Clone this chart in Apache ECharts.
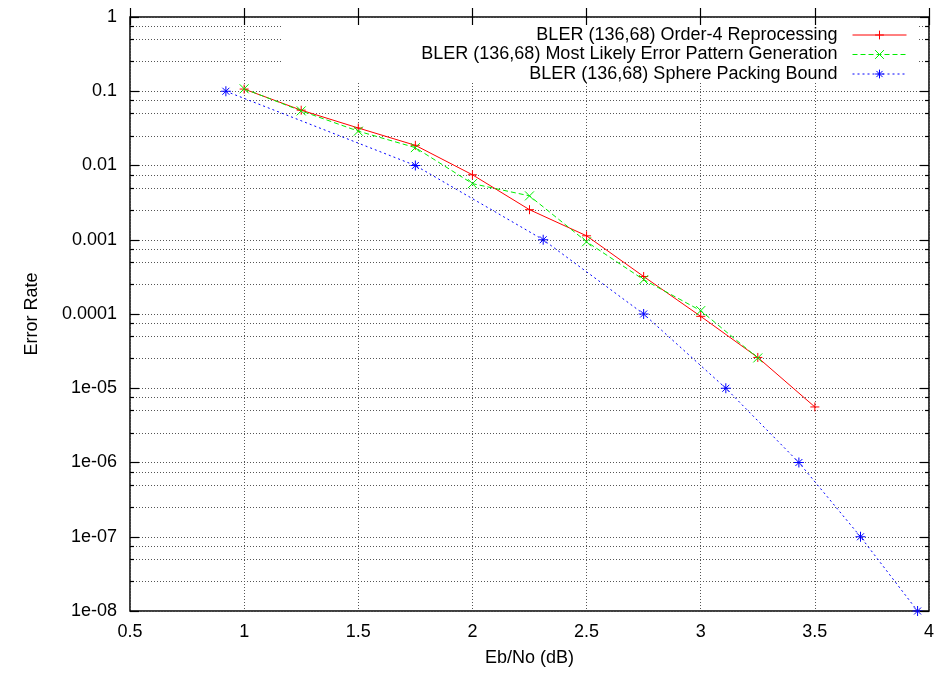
<!DOCTYPE html>
<html>
<head>
<meta charset="utf-8">
<script src="https://cdn.jsdelivr.net/npm/echarts@6/dist/echarts.min.js"></script>
<style>
  html, body { margin: 0; padding: 0; background: #fff; }
  #chart { width: 939px; height: 673px; }
</style>
</head>
<body>
<div id="chart"></div>
<script>
// Block error rate of the (136,68) code versus Eb/No
const seriesNames = [
  'BLER (136,68) Order-4 Reprocessing',
  'BLER (136,68) Most Likely Error Pattern Generation',
  'BLER (136,68) Sphere Packing Bound'
];

const ebnoOrder4 = [1, 1.25, 1.5, 1.75, 2, 2.25, 2.5, 2.75, 3, 3.25, 3.5];
const blerOrder4 = [0.107, 0.0556, 0.032, 0.0187, 0.0075, 0.00254, 0.00113, 0.00032, 0.000093, 0.000026, 0.0000056];

const ebnoMlep = [1, 1.25, 1.5, 1.75, 2, 2.25, 2.5, 2.75, 3, 3.25];
const blerMlep = [0.108, 0.0544, 0.029, 0.0174, 0.0057, 0.0039, 0.00094, 0.00029, 0.000111, 0.0000256];

const ebnoBound = [0.92, 1.75, 2.31, 2.75, 3.11, 3.43, 3.70, 3.95];
const blerBound = [1e-1, 1e-2, 1e-3, 1e-4, 1e-5, 1e-6, 1e-7, 1e-8];

const yTickValues = [1, 0.1, 0.01, 0.001, 0.0001, 1e-5, 1e-6, 1e-7, 1e-8];
const yTickLabels = ['1', '0.1', '0.01', '0.001', '0.0001', '1e-05', '1e-06', '1e-07', '1e-08'];
const minorMultipliers = [2.5, 5, 7.5];

const FONT = 'Liberation Sans, Arial, sans-serif';
const GRID_LINE = { color: '#555', width: 1, type: [1, 2] };
const TICK_LINE = { color: '#000', width: 1.2 };

// Exponents of the decades, and the minor levels inside each decade (in log10 units)
const decadeExps = yTickValues.map(v => Math.round(Math.log10(v)));
const expMin = Math.min(...decadeExps);
const expMax = Math.max(...decadeExps);
const minorLevels = [];
for (let e = expMin; e < expMax; e++) {
  minorMultipliers.forEach(m => minorLevels.push(e + Math.log10(m)));
}

function yLabel(v) {
  const lv = Math.log10(v);
  for (let i = 0; i < yTickValues.length; i++) {
    if (Math.abs(Math.log10(yTickValues[i]) - lv) < 1e-6) return yTickLabels[i];
  }
  return '';
}

const PLUS = 'path://M0 5L10 5M5 0L5 10';
const CROSS = 'path://M0 0L10 10M0 10L10 0';
const STAR = 'path://M0 5L10 5M5 0L5 10M1.5 1.5L8.5 8.5M1.5 8.5L8.5 1.5';

function pairs(xs, ys) { return xs.map((x, i) => [x, ys[i]]); }

function lineSeries(name, data, color, dash, symbol, size) {
  return {
    name: name,
    type: 'line',
    xAxisIndex: 0,
    yAxisIndex: 0,
    data: data,
    symbol: symbol,
    symbolSize: size,
    showSymbol: true,
    itemStyle: { color: color, borderColor: color, borderWidth: 1 },
    lineStyle: { color: color, width: 1, type: dash },
    emphasis: { disabled: true },
    z: 2
  };
}

const chart = echarts.init(document.getElementById('chart'), null, { renderer: 'canvas' });

chart.setOption({
  animation: false,
  backgroundColor: '#fff',
  textStyle: { fontFamily: FONT },
  grid: {
    left: 130, right: 10, top: 17, bottom: 62,
    show: true, borderColor: '#000', borderWidth: 1.5, backgroundColor: 'transparent'
  },
  legend: {
    data: seriesNames,
    orient: 'vertical',
    align: 'right',
    right: 32,
    top: 26,
    padding: 0,
    itemGap: 1.5,
    itemWidth: 54,
    itemHeight: 11,
    z: 6,
    selectedMode: false,
    textStyle: { fontSize: 18, color: '#000', fontFamily: FONT, padding: [0, 10, 0, 0] },
    itemStyle: { borderWidth: 1 },
    lineStyle: { width: 1 }
  },
  graphic: [{
    type: 'rect',
    silent: true,
    z: 3,
    shape: { x: 283, y: 18, width: 634, height: 64 },
    style: { fill: '#fff' }
  }],
  xAxis: [
    {
      type: 'value', position: 'bottom', min: 0.5, max: 4, interval: 0.5, z: 0,
      name: 'Eb/No (dB)', nameLocation: 'middle', nameGap: 38,
      nameTextStyle: { fontSize: 18, color: '#000', fontFamily: FONT },
      axisLine: { show: false },
      axisTick: { show: true, inside: true, length: 9, lineStyle: TICK_LINE },
      axisLabel: { margin: 12, fontSize: 18, color: '#000', fontFamily: FONT },
      splitLine: { show: true, lineStyle: GRID_LINE }
    },
    {
      type: 'value', position: 'top', min: 0.5, max: 4, interval: 0.5, z: 10,
      axisLine: { show: false },
      axisTick: { show: true, inside: true, length: 8, lineStyle: TICK_LINE },
      axisLabel: { show: false },
      splitLine: { show: false }
    }
  ],
  yAxis: [
    {
      type: 'log', logBase: 10, position: 'left', min: 1e-8, max: 1, z: 0,
      name: 'Error Rate', nameLocation: 'middle', nameGap: 89, nameRotate: 90,
      nameTextStyle: { fontSize: 18, color: '#000', fontFamily: FONT },
      axisLine: { show: false },
      axisTick: { show: true, inside: true, length: 9, lineStyle: TICK_LINE },
      axisLabel: { margin: 13, fontSize: 18, color: '#000', fontFamily: FONT, formatter: yLabel },
      splitLine: { show: true, lineStyle: GRID_LINE }
    },
    {
      // minor levels (2.5, 5, 7.5 per decade): ticks on the left and dotted grid lines
      type: 'value', position: 'left', min: expMin, max: expMax, z: 0,
      axisLine: { show: false },
      axisTick: { show: true, inside: true, length: 4, lineStyle: TICK_LINE, customValues: minorLevels },
      axisLabel: { show: false },
      splitLine: { show: true, lineStyle: GRID_LINE }
    },
    {
      // mirrored decade ticks on the right border
      type: 'value', position: 'right', min: expMin, max: expMax, interval: 1, z: 10,
      axisLine: { show: false },
      axisTick: { show: true, inside: true, length: 9, lineStyle: TICK_LINE },
      axisLabel: { show: false },
      splitLine: { show: false }
    },
    {
      // mirrored minor ticks on the right border
      type: 'value', position: 'right', min: expMin, max: expMax, z: 10,
      axisLine: { show: false },
      axisTick: { show: true, inside: true, length: 4, lineStyle: TICK_LINE, customValues: minorLevels },
      axisLabel: { show: false },
      splitLine: { show: false }
    }
  ],
  series: [
    lineSeries(seriesNames[0], pairs(ebnoOrder4, blerOrder4), '#ff0000', 'solid', PLUS, 9),
    lineSeries(seriesNames[1], pairs(ebnoMlep, blerMlep), '#00ee00', [5, 3], CROSS, 9),
    lineSeries(seriesNames[2], pairs(ebnoBound, blerBound), '#0000ff', [2, 3], STAR, 10)
  ]
});
</script>
</body>
</html>
